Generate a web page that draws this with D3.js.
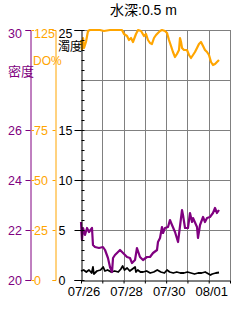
<!DOCTYPE html>
<html>
<head>
<meta charset="utf-8">
<script src="https://cdn.jsdelivr.net/npm/d3@7"></script>
<style>
  body { margin: 0; background: #fff; }
  svg { display: block; }
  text { font-family: "Liberation Sans", "Noto Sans CJK JP", sans-serif; }
</style>
</head>
<body>
<div id="chart"></div>
<script>
// data: hours since 07/26 00:00
var startDay = new Date(Date.UTC(2021, 6, 26));
var dayTicks = ["07/26", "07/27", "07/28", "07/29", "07/30", "07/31", "08/01", "08/02"];
var dayLabels = ["07/26", "07/28", "07/30", "08/01"];

var doHours = [0, 1.1, 2.3, 3.4, 5.6, 7.9, 10.1, 21.4, 25.9, 32.7, 46.2, 48.5, 51.9, 54.1, 56.4, 58.6, 62, 64.3, 67.7, 71, 73.3, 75.5, 77.8, 80, 82.3, 84.6, 86.8, 89.1, 91.3, 94.7, 97, 99.2, 101.5, 103.7, 106, 108.2, 110.5, 111.6, 112.8, 113.9, 116.1, 119.5, 121.8, 124, 126.3, 128.5, 130.8, 133, 135.3, 137.6, 139.8, 142.1, 144.3, 146.6, 148.8, 151.1, 153.3, 155.6];
var doValues = [120, 115, 121, 116, 119, 124.5, 125, 125, 124.5, 125, 125, 123, 122, 120, 121, 119, 123, 125, 124.5, 122, 123, 120, 118.5, 118, 121, 122.5, 123.5, 124.5, 125, 124.5, 123.5, 120, 117, 114, 111.5, 113, 115, 121, 119, 116, 115, 115, 112.5, 111, 112.5, 114, 116, 118, 119, 117, 115, 114, 112.5, 109, 107.5, 108, 109, 110];

var denHours = [0, 1.1, 2.3, 4.5, 6.8, 9, 12.4, 13.5, 15.8, 20.3, 24.8, 27.1, 30.4, 32.7, 35, 36.1, 38.3, 40.6, 44, 47.4, 51.9, 55.2, 57.5, 60.9, 63.1, 66.5, 69.9, 74.4, 77.8, 81.2, 85.7, 86.8, 89.1, 91.3, 92.5, 94.7, 98.1, 100.3, 102.6, 106, 109.4, 113.9, 115, 117.3, 120.6, 122.9, 125.2, 126.3, 130.8, 131.9, 134.2, 137.6, 139.8, 142.1, 145.4, 148.8, 151.1, 153.3, 155.6];
var denValues = [22.32, 21.6, 22.08, 21.8, 22.08, 21.92, 22.08, 21.4, 21.32, 21.28, 21.32, 21.2, 20.88, 20.52, 20.32, 20.88, 21, 21.08, 21.2, 21.08, 20.92, 20.88, 20.68, 20.8, 21.28, 20.92, 20.8, 20.92, 20.92, 21.08, 21.2, 21.52, 21.68, 22.12, 21.88, 22.08, 22.12, 22.4, 22.2, 21.92, 21.52, 22.8, 22.6, 22.08, 22.08, 22.68, 22.32, 22.48, 22.12, 21.68, 22.2, 22.52, 22.32, 22.48, 22.52, 22.68, 22.88, 22.68, 22.8];

var turHours = [0, 3, 6, 9, 12, 13.5, 14.5, 18, 22, 25, 27, 30, 34, 38, 42, 45, 47, 49, 52, 55, 58, 61, 62, 64, 67, 70, 74, 78, 82, 86, 90, 94, 97, 100, 104, 108, 112, 116, 120, 124, 128, 132, 136, 140, 144, 146, 148, 152, 155.6];
var turValues = [0.9, 1.0, 0.8, 1.0, 0.7, 1.3, 0.6, 0.9, 1.0, 1.3, 0.9, 1.0, 0.8, 0.9, 0.8, 1.1, 1.4, 1.0, 1.2, 0.9, 1.1, 1.3, 0.8, 1.0, 0.8, 0.8, 0.9, 0.7, 0.8, 1.0, 0.8, 0.7, 1.0, 0.8, 0.7, 0.8, 0.7, 0.7, 0.8, 0.7, 0.6, 0.7, 0.7, 0.8, 0.6, 0.5, 0.6, 0.7, 0.75];

var denTicks = [20, 22, 24, 26, 30];
var doTicks = [0, 25, 50, 75, 125];
var turTicks = [0, 5, 10, 15, 25];

var svgWidth = 240, svgHeight = 320;
var margin = { top: 30, right: 10, bottom: 40, left: 81 };
var width = svgWidth - margin.left - margin.right;
var height = svgHeight - margin.top - margin.bottom;

var svg = d3.select("#chart").append("svg")
  .attr("width", svgWidth)
  .attr("height", svgHeight);

var hourToDate = h => new Date(startDay.getTime() + h * 3600000);
var fmt = d3.utcFormat("%m/%d");

var x = d3.scaleUtc()
  .domain([startDay, hourToDate(7 * 24)])
  .range([margin.left, margin.left + width]);
var yTur = d3.scaleLinear().domain([0, 25]).range([margin.top + height, margin.top]);
var yDo = d3.scaleLinear().domain([0, 125]).range([margin.top + height, margin.top]);
var yDen = d3.scaleLinear().domain([20, 30]).range([margin.top + height, margin.top]);

var days = dayTicks.map((d, i) => hourToDate(i * 24));

// grid
var grid = svg.append("g").attr("stroke", "#808080").attr("stroke-width", 1);
grid.selectAll(".v").data(days.slice(1)).enter().append("line")
  .attr("x1", d => Math.round(x(d)) + 0.5).attr("x2", d => Math.round(x(d)) + 0.5)
  .attr("y1", margin.top).attr("y2", margin.top + height);
grid.selectAll(".h").data([5, 10, 15, 20, 25]).enter().append("line")
  .attr("x1", margin.left).attr("x2", margin.left + width)
  .attr("y1", d => Math.round(yTur(d)) + 0.5).attr("y2", d => Math.round(yTur(d)) + 0.5);

// lines
function series(hours, vals) {
  return hours.map((h, i) => ({ t: hourToDate(h), v: vals[i] }));
}
function drawLine(data, y, color, w) {
  svg.append("path")
    .datum(data)
    .attr("fill", "none")
    .attr("stroke", color)
    .attr("stroke-width", w)
    .attr("stroke-linejoin", "round")
    .attr("d", d3.line().x(d => x(d.t)).y(d => y(d.v)));
}
drawLine(series(turHours, turValues), yTur, "#000000", 1.8);
drawLine(series(denHours, denValues), yDen, "#800080", 2.2);
drawLine(series(doHours, doValues), yDo, "#FFA500", 2.2);

// x axis
var xAxis = svg.append("g")
  .attr("transform", `translate(0, ${margin.top + height + 0.5})`)
  .call(d3.axisBottom(x).tickValues(days).tickSize(3).tickSizeOuter(0)
    .tickFormat(d => dayLabels.indexOf(fmt(d)) >= 0 ? fmt(d) : ""));
xAxis.selectAll("text").attr("font-size", 13).attr("dx", 2.5)
  .attr("font-family", "Liberation Sans, sans-serif").attr("fill", "#000");

// left axes
function leftAxis(xPos, y, ticks, tickSize, labelX, color) {
  var g = svg.append("g")
    .attr("transform", `translate(${xPos}, 0)`)
    .attr("color", color)
    .call(d3.axisLeft(y).tickValues(ticks).tickSize(tickSize));
  g.selectAll("text")
    .attr("text-anchor", "start")
    .attr("x", labelX - xPos)
    .attr("font-size", 12.5)
    .attr("font-family", "Liberation Sans, sans-serif")
    .attr("fill", color)
    .attr("dy", (d, i) => (d === ticks[ticks.length - 1] ? "0.62em" : "0.36em"));
  return g;
}
leftAxis(30.5, yDen, denTicks, 5, 8, "#800080");
leftAxis(55.5, yDo, doTicks, 3, 34, "#FFA500");
leftAxis(81.5, yTur, turTicks, 7, 58.5, "#000000");

// small dashes before DO labels
svg.append("g").selectAll("line").data(doTicks).enter().append("line")
  .attr("x1", 31.5).attr("x2", 34)
  .attr("y1", d => Math.round(yDo(d)) + 0.5).attr("y2", d => Math.round(yDo(d)) + 0.5)
  .attr("stroke", "#FFA500");

// minor ticks on turbidity axis
svg.append("g").selectAll("line").data(d3.range(0, 26)).enter().append("line")
  .attr("x1", 81.5).attr("x2", 84.5)
  .attr("y1", d => Math.round(yTur(d)) + 0.5).attr("y2", d => Math.round(yTur(d)) + 0.5)
  .attr("stroke", "#000");

// axis titles
svg.append("text").attr("x", 8).attr("y", 76).attr("font-size", 13)
  .attr("fill", "#800080").text("密度");
svg.append("text").attr("x", 33).attr("y", 65).attr("font-size", 12)
  .attr("fill", "#FFA500").text("DO%");
svg.append("text").attr("x", 58).attr("y", 51).attr("font-size", 12)
  .attr("fill", "#000").text("濁度");

// title
svg.append("text").attr("x", 110).attr("y", 15).attr("font-size", 14)
  .attr("fill", "#000").text("水深:0.5 m");
</script>
</body>
</html>
